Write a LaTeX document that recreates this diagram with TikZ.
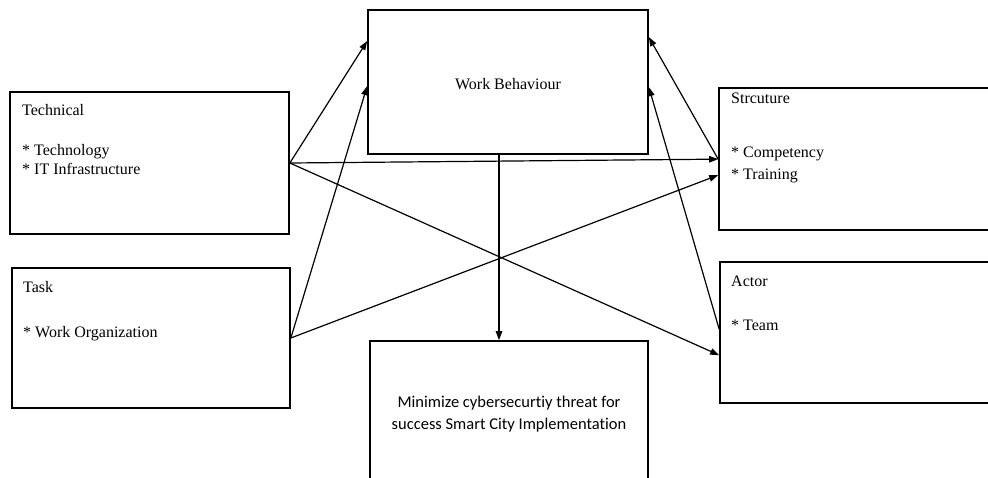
\documentclass[tikz,border=0pt]{standalone}
\usepackage{fontspec}
\setmainfont{Liberation Serif}
\newfontfamily\calib[Ligatures=NoCommon]{Carlito}
\usetikzlibrary{arrows.meta}
\tikzset{
  box/.style={draw=black, line width=1.7pt, fill=white, rectangle, inner sep=0pt},
  lbl/.style={anchor=base west, inner sep=0pt, font=\fontsize{16}{19}\selectfont},
  clbl/.style={anchor=base, inner sep=0pt, font=\fontsize{16}{19}\selectfont},
  mlbl/.style={anchor=base, inner sep=0pt, font=\calib\fontsize{16.5}{20}\selectfont},
  conn/.style={draw=black, line width=1.2pt, -{Triangle[length=9pt,width=6.5pt]}},
  plain/.style={draw=black, line width=1.2pt}
}
\begin{document}
\begin{tikzpicture}[x=1pt,y=-1pt]
\useasboundingbox (0,0) rectangle (988,477);
\clip (0,0) rectangle (988,477);
\fill[white] (0,0) rectangle (988,477);
% boxes
\node[box, minimum width=279pt, minimum height=142pt] (tech) at (149.5,163) {};
\node[box, minimum width=278pt, minimum height=140pt] (task) at (151,338) {};
\node[box, minimum width=280pt, minimum height=144pt] (wb) at (508,82) {};
\node[box, minimum width=278pt, minimum height=160pt] (mini) at (509,421) {};
\node[box, minimum width=290pt, minimum height=142pt] (str) at (864,159) {};
\node[box, minimum width=290pt, minimum height=141pt] (act) at (865,332.5) {};
% texts
\node[lbl] (t1) at (22,115) {Technical};
\node[lbl] (t2) at (22,155) {* Technology};
\node[lbl] (t3) at (22,174) {* IT Infrastructure};
\node[lbl] (k1) at (23,292) {Task};
\node[lbl] (k2) at (23,337) {* Work Organization};
\node[clbl] (w1) at (508,89) {Work Behaviour};
\node[lbl] (s1) at (731,103) {Strcuture};
\node[lbl] (s2) at (731,157) {* Competency};
\node[lbl] (s3) at (731,179) {* Training};
\node[lbl] (a1) at (731,286) {Actor};
\node[lbl] (a2) at (731,330) {* Team};
\node[mlbl] (m1) at (509,407) {Minimize cybersecurtiy threat for};
\node[mlbl] (m2) at (509,429) {success Smart City Implementation};
% connectors
\draw[conn] (tech.east) -- ([yshift=-32pt]wb.north west);
\draw[conn] (task.east) -- ([yshift=-77pt]wb.north west);
\draw[conn] (tech.east) -- ([yshift=-72pt]str.north west);
\draw[conn] (task.east) -- ([yshift=-88pt]str.north west);
\draw[conn] (tech.east) -- ([yshift=-94pt]act.north west);
\draw[conn] ([yshift=-72pt]str.north west) -- ([yshift=-28pt]wb.north east);
\draw[conn] ([yshift=-68pt]act.north west) -- ([yshift=-78pt]wb.north east);
\draw[conn] ([xshift=-9pt]wb.south) -- ([xshift=-9pt]wb.south |- mini.north);
\end{tikzpicture}
\end{document}
